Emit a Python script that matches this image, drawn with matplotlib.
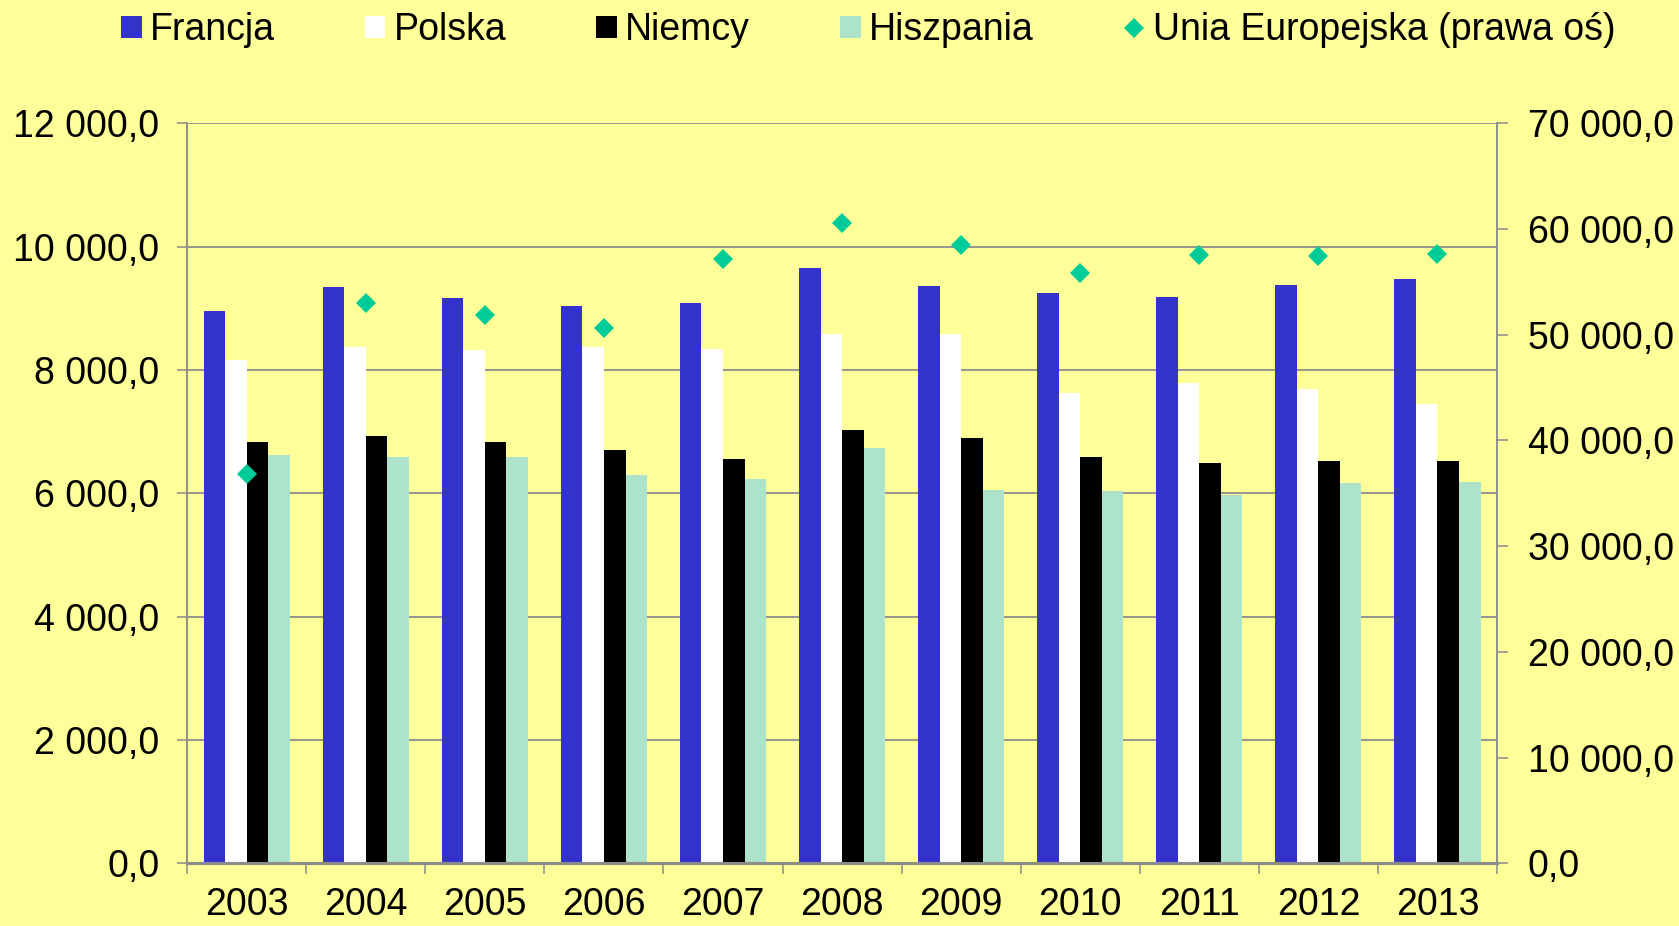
import matplotlib
matplotlib.use("Agg")

import matplotlib.pyplot as plt
import numpy as np
from matplotlib.lines import Line2D
from matplotlib.patches import Patch
from matplotlib.ticker import FixedLocator, FuncFormatter

years = ["2003", "2004", "2005", "2006", "2007", "2008", "2009", "2010", "2011", "2012", "2013"]
francja = [8950, 9340, 9170, 9040, 9080, 9650, 9370, 9250, 9190, 9380, 9470]
polska = [8160, 8370, 8320, 8370, 8340, 8590, 8580, 7620, 7790, 7690, 7450]
niemcy = [6830, 6930, 6830, 6700, 6560, 7030, 6900, 6590, 6490, 6520, 6530]
hiszpania = [6620, 6590, 6590, 6300, 6240, 6730, 6060, 6030, 5980, 6160, 6180]
unia = [36800, 52970, 51890, 50660, 57130, 60600, 58460, 55840, 57540, 57450, 57630]

series_names = ["Francja", "Polska", "Niemcy", "Hiszpania"]
series_colors = ["#3333CC", "#FFFFFF", "#000000", "#ADE3CB"]
eu_name = "Unia Europejska (prawa oś)"
eu_color = "#00CC99"
bg = "#FFFF99"
grid_col = "#8C8C8C"


def pl_fmt(v, pos=None):
    return f"{v:,.1f}".replace(",", " ").replace(".", ",")


def main() -> None:
    plt.rcParams["font.family"] = ["Liberation Sans", "DejaVu Sans"]
    fs = 27

    fig = plt.figure(figsize=(16.79, 9.26), dpi=100, facecolor=bg)
    ax = fig.add_axes([0.1115, 0.0677, 0.7801, 0.7991])
    ax.set_facecolor(bg)
    ax2 = ax.twinx()

    x = np.arange(len(years))
    w = 0.181
    data = [francja, polska, niemcy, hiszpania]
    for i, (vals, col, name) in enumerate(zip(data, series_colors, series_names)):
        ax.bar(x + (i - 1.5) * w, vals, width=w, color=col, label=name, zorder=2)

    ax2.plot(x, unia, linestyle="none", marker="D", markersize=10.5,
             color=eu_color, markeredgewidth=0, zorder=5)

    ax.set_xlim(-0.5, len(years) - 0.5)
    ax.set_ylim(0, 12000)
    ax2.set_ylim(0, 70000)
    ax.set_yticks(np.arange(0, 12001, 2000))
    ax2.set_yticks(np.arange(0, 70001, 10000))
    ax.yaxis.set_major_formatter(FuncFormatter(pl_fmt))
    ax2.yaxis.set_major_formatter(FuncFormatter(pl_fmt))

    ax.set_xticks(x)
    ax.set_xticklabels(years)
    ax.xaxis.set_minor_locator(FixedLocator(np.arange(-0.5, len(years), 1.0)))
    ax.tick_params(axis="x", which="major", length=0, pad=17, labelsize=fs)
    ax.tick_params(axis="x", which="minor", length=8, width=1.1, color=grid_col)
    ax.tick_params(axis="y", length=7, width=1.1, color=grid_col, pad=13, labelsize=fs)
    ax2.tick_params(axis="y", length=8, width=1.1, color=grid_col, pad=14, labelsize=fs)

    ax.set_axisbelow(True)
    ax.yaxis.grid(True, color=grid_col, linewidth=1.3)
    for a in (ax, ax2):
        a.spines["top"].set_visible(False)
        a.spines["left"].set_color(grid_col)
        a.spines["right"].set_color(grid_col)
        a.spines["bottom"].set_color(grid_col)
        a.spines["left"].set_linewidth(1.1)
        a.spines["right"].set_linewidth(1.1)
        a.spines["bottom"].set_linewidth(2.2)

    handles = [Patch(facecolor=c, edgecolor="none") for c in series_colors]
    handles.append(Line2D([], [], linestyle="none", marker="D", markersize=10.5,
                          color=eu_color, markeredgewidth=0))
    fig.legend(handles, series_names + [eu_name], loc="upper center",
               bbox_to_anchor=(0.517, 1.015), ncol=5, frameon=False, fontsize=fs,
               handlelength=0.55, handleheight=0.55, handletextpad=0.22,
               columnspacing=2.4, borderaxespad=0.3)

    fig.savefig("out.png", dpi=100, facecolor=bg)


if __name__ == "__main__":
    main()
